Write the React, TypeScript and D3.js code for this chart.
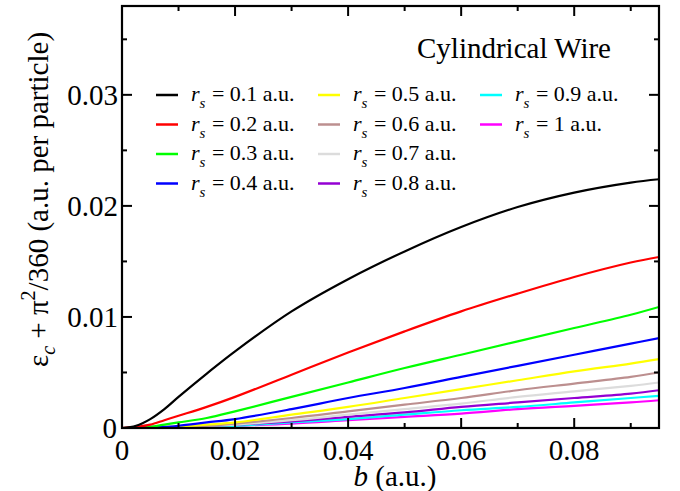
import React from "react";
import * as d3 from "d3";

const B = [0, 0.0025, 0.005, 0.0075, 0.01, 0.015, 0.02, 0.03, 0.04, 0.05, 0.06, 0.07, 0.08, 0.09, 0.095];

const rs01 = [0, 0.0002, 0.0008, 0.0017, 0.0028, 0.0049, 0.0069, 0.0105, 0.0134, 0.0159, 0.0181, 0.0199, 0.0212, 0.0221, 0.0224];
const rs02 = [0, 0.0001, 0.0003, 0.0007, 0.0011, 0.0019, 0.0028, 0.0048, 0.0068, 0.0087, 0.0105, 0.0121, 0.0136, 0.0149, 0.0154];
const rs03 = [0, 0, 0.0001, 0.0003, 0.0005, 0.0009, 0.0015, 0.0028, 0.0041, 0.0054, 0.0066, 0.0078, 0.009, 0.0102, 0.0109];
const rs04 = [0, 0, 0.0001, 0.0001, 0.0002, 0.0005, 0.0008, 0.0017, 0.0027, 0.0036, 0.0046, 0.0056, 0.0066, 0.0076, 0.0081];
const rs05 = [0, 0, 0, 0.0001, 0.0001, 0.0003, 0.0005, 0.0012, 0.0019, 0.0027, 0.0035, 0.0043, 0.0051, 0.0058, 0.0062];
const rs06 = [0, 0, 0, 0, 0.0001, 0.0002, 0.0004, 0.0009, 0.0015, 0.0021, 0.0027, 0.0034, 0.004, 0.0046, 0.005];
const rs07 = [0, 0, 0, 0, 0.0001, 0.0002, 0.0003, 0.0007, 0.0012, 0.0017, 0.0022, 0.0028, 0.0033, 0.0038, 0.0041];
const rs08 = [0, 0, 0, 0, 0.0001, 0.0002, 0.0003, 0.0006, 0.001, 0.0014, 0.0019, 0.0023, 0.0027, 0.0031, 0.0034];
const rs09 = [0, 0, 0, 0, 0.0001, 0.0001, 0.0002, 0.0005, 0.0008, 0.0012, 0.0016, 0.0019, 0.0023, 0.0027, 0.0029];
const rs10 = [0, 0, 0, 0, 0, 0.0001, 0.0002, 0.0004, 0.0007, 0.001, 0.0013, 0.0017, 0.002, 0.0023, 0.0025];

const seriesLabels = ["0.1", "0.2", "0.3", "0.4", "0.5", "0.6", "0.7", "0.8", "0.9", "1"];
const seriesValues = [rs01, rs02, rs03, rs04, rs05, rs06, rs07, rs08, rs09, rs10];
const seriesColors = ["#000000", "#ff0000", "#00ff00", "#0000ff", "#ffff00", "#bc8f8f", "#dcdcdc", "#9400d3", "#00ffff", "#ff00ff"];

const xMajor = [0, 0.02, 0.04, 0.06, 0.08];
const xMinor = [0.01, 0.03, 0.05, 0.07, 0.09];
const yMajor = [0, 0.01, 0.02, 0.03];
const yMinor = [0.005, 0.015, 0.025, 0.035];
const fmtTick = (v: number) => (v === 0 ? "0" : String(v));

const W = 680, H = 491;
const L = 122, R = 659, T = 6, Bt = 428;
const FONT = "Liberation Serif";

export default function App() {
  const x = d3.scaleLinear().domain([0, 0.095]).range([L, R]);
  const y = d3.scaleLinear().domain([0, 0.038]).range([Bt, T]);
  const line = d3
    .line<number>()
    .x((_, i) => x(B[i]))
    .y((v) => y(v))
    .curve(d3.curveCatmullRom.alpha(0.5));

  const order = [9, 8, 7, 6, 5, 4, 3, 2, 1, 0];

  const legendCols = [
    { lx: 156, idx: [0, 1, 2, 3] },
    { lx: 318, idx: [4, 5, 6, 7] },
    { lx: 480, idx: [8, 9] },
  ];
  const rowY = [95, 124.5, 154, 183.5];
  const ts = { fontFamily: FONT };

  return (
    <svg width={W} height={H} style={{ position: "absolute", left: 0, top: 0, background: "#fff" }}>
      <defs>
        <clipPath id="plotclip">
          <rect x={L} y={T} width={R - L} height={Bt - T} />
        </clipPath>
      </defs>
      <rect x={0} y={0} width={W} height={H} fill="#fff" />
      <g clipPath="url(#plotclip)">
        {order.map((i) => (
          <path key={i} d={line(seriesValues[i]) || ""} fill="none" stroke={seriesColors[i]} strokeWidth={2.2} />
        ))}
      </g>
      {xMajor.map((v) => (
        <g key={"xM" + v}>
          <line x1={x(v)} x2={x(v)} y1={Bt} y2={Bt - 10} stroke="#000" strokeWidth={2} />
          <line x1={x(v)} x2={x(v)} y1={T} y2={T + 10} stroke="#000" strokeWidth={2} />
          <text style={ts} x={x(v)} y={460} fontSize={29} textAnchor="middle">{fmtTick(v)}</text>
        </g>
      ))}
      {xMinor.map((v) => (
        <g key={"xm" + v}>
          <line x1={x(v)} x2={x(v)} y1={Bt} y2={Bt - 5} stroke="#000" strokeWidth={2} />
          <line x1={x(v)} x2={x(v)} y1={T} y2={T + 5} stroke="#000" strokeWidth={2} />
        </g>
      ))}
      {yMajor.map((v) => (
        <g key={"yM" + v}>
          <line x1={L} x2={L + 10} y1={y(v)} y2={y(v)} stroke="#000" strokeWidth={2} />
          <line x1={R} x2={R - 10} y1={y(v)} y2={y(v)} stroke="#000" strokeWidth={2} />
          <text style={ts} x={v === 0 ? 117 : 118} y={y(v) + 10} fontSize={29} textAnchor="end">{fmtTick(v)}</text>
        </g>
      ))}
      {yMinor.map((v) => (
        <g key={"ym" + v}>
          <line x1={L} x2={L + 5} y1={y(v)} y2={y(v)} stroke="#000" strokeWidth={2} />
          <line x1={R} x2={R - 5} y1={y(v)} y2={y(v)} stroke="#000" strokeWidth={2} />
        </g>
      ))}
      <rect x={L} y={T} width={R - L} height={Bt - T} fill="none" stroke="#000" strokeWidth={2.2} />

      <text style={ts} x={395} y={486} fontSize={29} textAnchor="middle">
        <tspan fontStyle="italic">b</tspan> (a.u.)
      </text>
      <text style={ts} transform="translate(48,367) rotate(-90)" fontSize={29}>
        ε<tspan fontSize={20} fontStyle="italic" dy={7}>c</tspan>
        <tspan dy={-7}> + π</tspan>
        <tspan fontSize={20} dy={-13}>2</tspan>
        <tspan dy={13}>/360 (a.u. per particle)</tspan>
      </text>

      <text style={ts} x={417} y={58} fontSize={29}>Cylindrical Wire</text>

      {legendCols.map((c) =>
        c.idx.map((i, ri) => (
          <g key={"lg" + i}>
            <line x1={c.lx} x2={c.lx + 22} y1={rowY[ri]} y2={rowY[ri]} stroke={seriesColors[i]} strokeWidth={2.5} />
            <text style={ts} x={c.lx + 35} y={rowY[ri] + 6} fontSize={22}>
              <tspan fontStyle="italic">r</tspan>
              <tspan fontSize={15} fontStyle="italic" dy={7}>s</tspan>
              <tspan dy={-7} dx={1}>{" = " + seriesLabels[i] + " a.u."}</tspan>
            </text>
          </g>
        ))
      )}
    </svg>
  );
}
